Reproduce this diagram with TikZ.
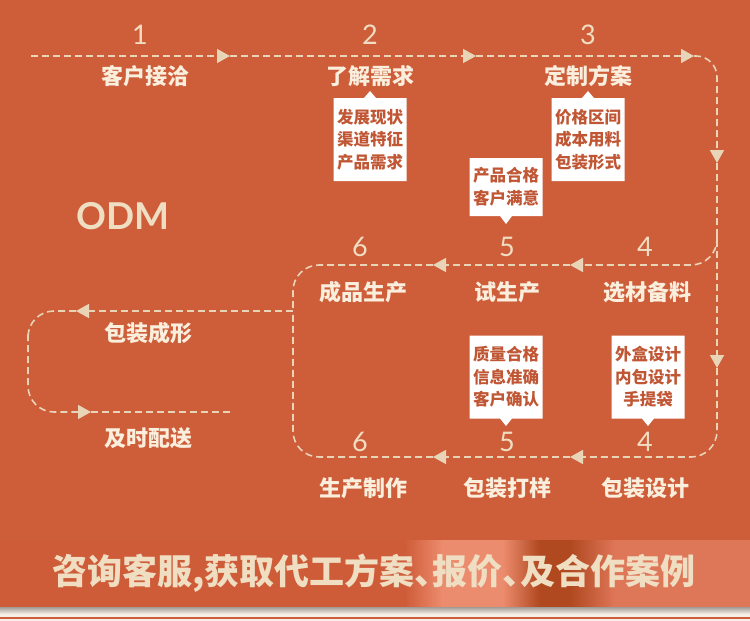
\documentclass[tikz,border=0pt]{standalone}
\usepackage{fontspec}
\usepackage{tikz}
\usetikzlibrary{positioning,arrows.meta,shapes.callouts}
\newfontfamily\cjk{Noto Sans CJK SC}
\newfontfamily\latin{Lato}
\definecolor{bgorange}{RGB}{206,93,58}
\definecolor{linecream}{RGB}{232,212,182}
\definecolor{labelcream}{RGB}{250,238,220}
\definecolor{numgold}{RGB}{240,222,195}
\definecolor{boxtext}{RGB}{192,86,52}
\definecolor{cream}{RGB}{247,240,230}
\definecolor{bandbase}{RGB}{207,92,57}
\definecolor{bandlight}{RGB}{236,140,110}
\definecolor{banddark}{RGB}{176,72,32}
\definecolor{bandright}{RGB}{222,118,88}
\pgfdeclarehorizontalshading{bandshade}{100bp}{color(0bp)=(bandbase); color(52bp)=(bandbase); color(54.5bp)=(bandlight); color(58.5bp)=(bandlight); color(61bp)=(banddark); color(63bp)=(banddark); color(66bp)=(bandright); color(100bp)=(bandright)}

\begin{document}
\begin{tikzpicture}[
    x=1pt, y=-1pt,
    every node/.style={inner sep=0pt},
    num/.style={text=numgold, font=\latin\fontsize{27}{27}\selectfont},
    steplabel/.style={text=labelcream, font=\cjk\bfseries\fontsize{22}{22}\selectfont},
    callbox/.style={rectangle callout, fill=white, minimum width=73pt, minimum height=83pt, callout pointer width=12pt, align=center, text=boxtext, font=\cjk\bfseries\fontsize{16.5}{22.5}\selectfont},
    flow/.style={draw=linecream, line width=1.6pt, dash pattern=on 7pt off 4pt, rounded corners=26pt},
    flowtip/.style={-{Triangle[length=13pt,width=14pt]}}
]
    \useasboundingbox (0,0) rectangle (750,621);
    \fill[bgorange] (0,0) rectangle (750,621);

    % Path points
    \coordinate (t0) at (31,56);
    \coordinate (t1) at (230,56);
    \coordinate (t2) at (476,56);
    \coordinate (t3) at (694,56);
    \coordinate (r1) at (717,163);
    \coordinate (r2) at (717,368);
    \coordinate (b1) at (570,457);
    \coordinate (b2) at (433,457);
    \coordinate (m0) at (717,236);
    \coordinate (m1) at (570,265);
    \coordinate (m2) at (433,265);
    \coordinate (lv) at (293,311);
    \coordinate (l1) at (76,311);
    \coordinate (lbend) at (28,360);
    \coordinate (l2) at (91,412);
    \coordinate (l3) at (230,412);

    % Flow lines
    \draw[flow, flowtip] (t0) -- (t1);
    \draw[flow, flowtip] (t1) -- (t2);
    \draw[flow, flowtip] (t2) -- (t3);
    \draw[flow, flowtip, rounded corners=21pt] (t3) -| (r1);
    \draw[flow, flowtip] (r1) -- (r2);
    \draw[flow, flowtip] (r2) |- (b1);
    \draw[flow, flowtip] (b1) -- (b2);
    \draw[flow] (b2) -| (lv);
    \draw[flow, flowtip] (m0) |- (m1);
    \draw[flow, flowtip] (m1) -- (m2);
    \draw[flow] (m2) -| (lv);
    \draw[flow, flowtip] (lv) -- (l1);
    \draw[flow, flowtip] (l1) -| (lbend) |- (l2);
    \draw[flow] (l2) -- (l3);

    % Top row
    \node[num] (n1) at (140,35) {1};
    \node[num] (n2) at (370,35) {2};
    \node[num] (n3) at (588,35) {3};
    \node[steplabel] (s1) at (145,76) {客户接洽};
    \node[steplabel] (s2) at (370,76) {了解需求};
    \node[steplabel] (s3) at (588,76) {定制方案};

    % Callouts
    \node[callbox, callout absolute pointer={(370,91)}] (c2) at (370,139.5) {发展现状\\渠道特征\\产品需求};
    \node[callbox, callout absolute pointer={(588,91)}] (c3) at (588,139.5) {价格区间\\成本用料\\包装形式};
    \node[callbox, minimum height=58pt, callout absolute pointer={(506,224)}] (c5top) at (506,187) {产品合格\\客户满意};
    \node[callbox, callout absolute pointer={(506,426)}] (c5bot) at (506,377) {质量合格\\信息准确\\客户确认};
    \node[callbox, callout absolute pointer={(648,426)}] (c4bot) at (648,377) {外盒设计\\内包设计\\手提袋};

    % Middle row
    \node[num] (m6n) at (360,247) {6};
    \node[num] (m5n) at (507,247) {5};
    \node[num] (m4n) at (645,247) {4};
    \node[steplabel] (sm6) at (363,292) {成品生产};
    \node[steplabel] (sm5) at (507,292) {试生产};
    \node[steplabel] (sm4) at (647,292) {选材备料};

    % Bottom row
    \node[num] (b6n) at (360,442) {6};
    \node[num] (b5n) at (507,442) {5};
    \node[num] (b4n) at (645,442) {4};
    \node[steplabel] (sb6) at (363,488) {生产制作};
    \node[steplabel] (sb5) at (507,488) {包装打样};
    \node[steplabel] (sb4) at (645,488) {包装设计};

    % Left loop
    \node[text=numgold, font=\latin\bfseries\fontsize{37}{37}\selectfont] (odm) at (123,216) {ODM};
    \node[steplabel] (pack) at (148,333) {包装成形};
    \node[steplabel] (ship) at (148,438) {及时配送};

    % Bottom band
    \shade[shading=bandshade] (0,540) rectangle (750,607);
    \shade[top color=black!35!cream, bottom color=cream] (0,607) rectangle (750,614);
    \fill[cream] (0,614) rectangle (750,621);
    \fill[bgorange] (0,617) rectangle (750,618.5);
    \node[text=numgold, font=\cjk\bfseries\fontsize{35}{35}\selectfont] (slogan) at (374,573) {咨询客服,获取代工方案、\kern-17pt报价、\kern-17pt及合作案例};
\end{tikzpicture}
\end{document}
